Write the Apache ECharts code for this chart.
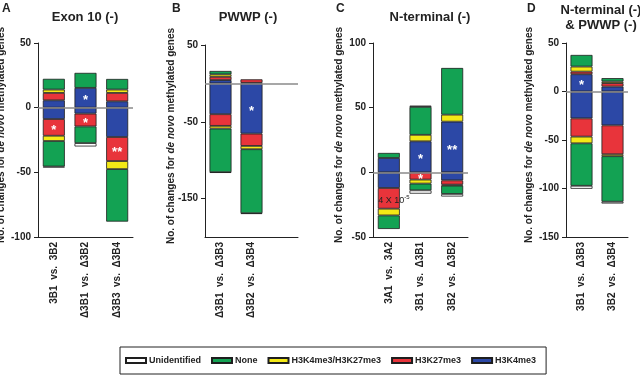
<!DOCTYPE html>
<html lang="en">
<head>
  <meta charset="UTF-8">
  <title>De novo methylated genes</title>
  <script src="https://cdn.jsdelivr.net/npm/echarts@6/dist/echarts.min.js"></script>
  <style>
    html, body { margin: 0; padding: 0; background: #fff; }
  </style>
</head>
<body>
  <div id="chart" style="width:640px;height:377px;"></div>
  <script>
    // categories of each panel
    var catsA = ['3B1  vs.  3B2', 'Δ3B1  vs.  Δ3B2', 'Δ3B3  vs.  Δ3B4'];
    var catsB = ['Δ3B1  vs.  Δ3B3', 'Δ3B2  vs.  Δ3B4', ''];
    var catsC = ['3A1  vs.  3A2', '3B1  vs.  Δ3B1', '3B2  vs.  Δ3B2'];
    var catsD = ['3B1  vs.  Δ3B3', '3B2  vs.  Δ3B4'];

    // stack layers, from zero outwards
    var layers = ['H3K4me3', 'H3K27me3', 'H3K4me3/H3K27me3', 'None', 'Unidentified'];
    var legendOrder = ['Unidentified', 'None', 'H3K4me3/H3K27me3', 'H3K27me3', 'H3K4me3'];

    // per category: [H3K4me3, H3K27me3, both, None, Unidentified]
    var aUp = [[5.7, 5.7, 2.6, 8.3, 0], [15.3, 0, 0, 11.6, 0], [4.9, 6.5, 2.6, 8.2, 0]];
    var aDown = [[-8.8, -12.9, -4.1, -19.7, -0.8], [-4.6, -9.9, 0, -12.9, -2.6], [-22.7, -18.6, -6.2, -40.6, 0]];
    var bUp = [[4.3, 4.3, 3.2, 4.4, 0], [0.8, 4.5, 0, 0, 0]];
    var bDown = [[-40.1, -15.2, -3.5, -56.8, -0.9], [-65.4, -16, -4.3, -83.3, -1]];
    var cUp = [[11.1, 0, 0, 3.9, 0], [24, 0, 5, 21.6, 1], [39.2, 0, 5.4, 36.1, 0]];
    var cDown = [[-12.1, -16, -5.2, -10.5, 0], [0, -5.6, -3.1, -5.2, -2.6], [-6.2, -3.3, -0.8, -6.4, -2]];
    var dUp = [[17.8, 2.7, 5.2, 12, 0], [5.1, 3.5, 1.7, 3.5, 0]];
    var dDown = [[-27.7, -18.8, -6.9, -43.8, -3.1], [-34.9, -29.8, -2, -46.9, -1.9]];

    // significance marks: [panel, category, layer, sign, text]
    var stars = [
      [0, 0, 1, -1, '*'], [0, 1, 0, 1, '*'], [0, 1, 1, -1, '*'], [0, 2, 1, -1, '**'],
      [1, 1, 0, -1, '*'],
      [2, 1, 0, 1, '*'], [2, 1, 1, -1, '*'], [2, 2, 0, 1, '**'],
      [3, 0, 0, 1, '*']
    ];
    // p value note in panel C
    var pNote = [2, 0, 1, -1, '4 X 10', '-5'];

    var colors = {
      'H3K4me3': '#2c48a6',
      'H3K27me3': '#e8343b',
      'H3K4me3/H3K27me3': '#f4e916',
      'None': '#13a253',
      'Unidentified': '#ffffff'
    };

    var font = '"Liberation Sans", Arial, sans-serif';
    var ink = '#222';

    var panels = [
      {cats: catsA, up: aUp, down: aDown, min: -100, max: 50, grid: {left: 38, top: 43, width: 95, height: 194}, gap: 32},
      {cats: catsB, up: bUp, down: bDown, min: -200, max: 50, ticks: [50, -50, -150], grid: {left: 205, top: 45, width: 93, height: 192}, gap: 29},
      {cats: catsC, up: cUp, down: cDown, min: -50, max: 100, grid: {left: 373, top: 43, width: 95, height: 194}, gap: 29},
      {cats: catsD, up: dUp, down: dDown, min: -150, max: 50, grid: {left: 566, top: 43, width: 62, height: 194}, gap: 32}
    ];

    var grids = [], xAxes = [], yAxes = [], series = [];

    panels.forEach(function (p, pi) {
      grids.push(Object.assign({outerBoundsMode: 'none', containLabel: false}, p.grid));
      xAxes.push({
        type: 'category', gridIndex: pi, data: p.cats,
        axisLine: {onZero: false, lineStyle: {color: ink, width: 1}},
        axisTick: {show: false},
        axisLabel: {rotate: 90, interval: 0, margin: 5, fontSize: 10, fontWeight: 'bold', color: ink, fontFamily: font}
      });
      var y = {
        type: 'value', gridIndex: pi, min: p.min, max: p.max, interval: 50,
        name: '{n|No. of changes for }{i|de novo}{n| methylated genes}',
        nameLocation: 'middle', nameGap: p.gap, nameMoveOverlap: false,
        nameTextStyle: {
          color: ink, fontFamily: font, padding: [0, 0, 0, 10],
          rich: {
            n: {fontSize: 10, fontWeight: 'bold', color: ink, fontFamily: font},
            i: {fontSize: 10, fontWeight: 'bold', fontStyle: 'italic', color: ink, fontFamily: font}
          }
        },
        axisLine: {show: true, lineStyle: {color: ink, width: 1}},
        axisTick: {show: true, length: 4, lineStyle: {color: ink}},
        axisLabel: {margin: 7, fontSize: 10, fontWeight: 'bold', color: ink, fontFamily: font},
        splitLine: {show: false}
      };
      if (p.ticks) {
        y.axisTick.customValues = p.ticks;
        y.axisLabel.customValues = p.ticks;
      }
      yAxes.push(y);

      layers.forEach(function (name, li) {
        [1, -1].forEach(function (sign) {
          var rows = sign > 0 ? p.up : p.down;
          var data = rows.map(function (r, ci) {
            var v = r[li];
            if (!v) return '-';
            var item = {value: v};
            stars.forEach(function (s) {
              if (s[0] === pi && s[1] === ci && s[2] === li && s[3] === sign) {
                item.label = {show: true, position: 'inside', formatter: s[4], color: '#fff',
                  fontSize: 13, fontWeight: 'bold', fontFamily: font, offset: [0, 3]};
              }
            });
            if (pNote[0] === pi && pNote[1] === ci && pNote[2] === li && pNote[3] === sign) {
              item.label = {show: true, position: 'inside', offset: [5, 2],
                formatter: '{a|' + pNote[4] + '}{s|' + pNote[5] + '}',
                rich: {
                  a: {fontSize: 9, color: ink, fontFamily: font},
                  s: {fontSize: 6, color: ink, fontFamily: font, verticalAlign: 'top', padding: [0, 0, 5, 0]}
                }};
            }
            return item;
          });
          var s = {
            name: name, type: 'bar', xAxisIndex: pi, yAxisIndex: pi,
            stack: 'p' + pi, barWidth: 22, data: data,
            itemStyle: {color: colors[name], borderColor: '#1e1e1e', borderWidth: 0.8},
            emphasis: {disabled: true}
          };
          if (li === 0 && sign > 0) {
            s.markLine = {
              silent: true, symbol: 'none', label: {show: false},
              lineStyle: {color: '#8a8a8a', width: 1.5, type: 'solid'},
              data: [{yAxis: 0}]
            };
          }
          series.push(s);
        });
      });
    });

    var titleStyle = {fontSize: 13, fontWeight: 'bold', color: ink, fontFamily: font};
    var letterStyle = {fontSize: 12, fontWeight: 'bold', color: ink, fontFamily: font};

    var myChart = echarts.init(document.getElementById('chart'));
    myChart.setOption({
      backgroundColor: '#fff',
      animation: false,
      title: [
        {text: 'A', left: 2, top: 3, padding: 0, textStyle: letterStyle},
        {text: 'B', left: 172, top: 3, padding: 0, textStyle: letterStyle},
        {text: 'C', left: 336, top: 3, padding: 0, textStyle: letterStyle},
        {text: 'D', left: 527, top: 3, padding: 0, textStyle: letterStyle},
        {text: 'Exon 10 (-)', left: 85, top: 11, padding: 0, textAlign: 'center', textStyle: titleStyle},
        {text: 'PWWP (-)', left: 248, top: 11, padding: 0, textAlign: 'center', textStyle: titleStyle},
        {text: 'N-terminal (-)', left: 430, top: 11, padding: 0, textAlign: 'center', textStyle: titleStyle},
        {text: 'N-terminal (-)\n& PWWP (-)', left: 601, top: 3, padding: 0, textAlign: 'center',
          textStyle: Object.assign({lineHeight: 15}, titleStyle)}
      ],
      legend: {
        data: legendOrder, left: 120, top: 347,
        orient: 'horizontal', icon: 'rect',
        itemWidth: 20, itemHeight: 5, itemGap: 10,
        padding: [9, 10, 9, 5],
        borderColor: '#222', borderWidth: 1,
        selectedMode: false,
        textStyle: {fontSize: 9, fontWeight: 'bold', color: ink, fontFamily: font, padding: [0, 0, 0, -2]}
      },
      grid: grids,
      xAxis: xAxes,
      yAxis: yAxes,
      series: series
    });
  </script>
</body>
</html>
